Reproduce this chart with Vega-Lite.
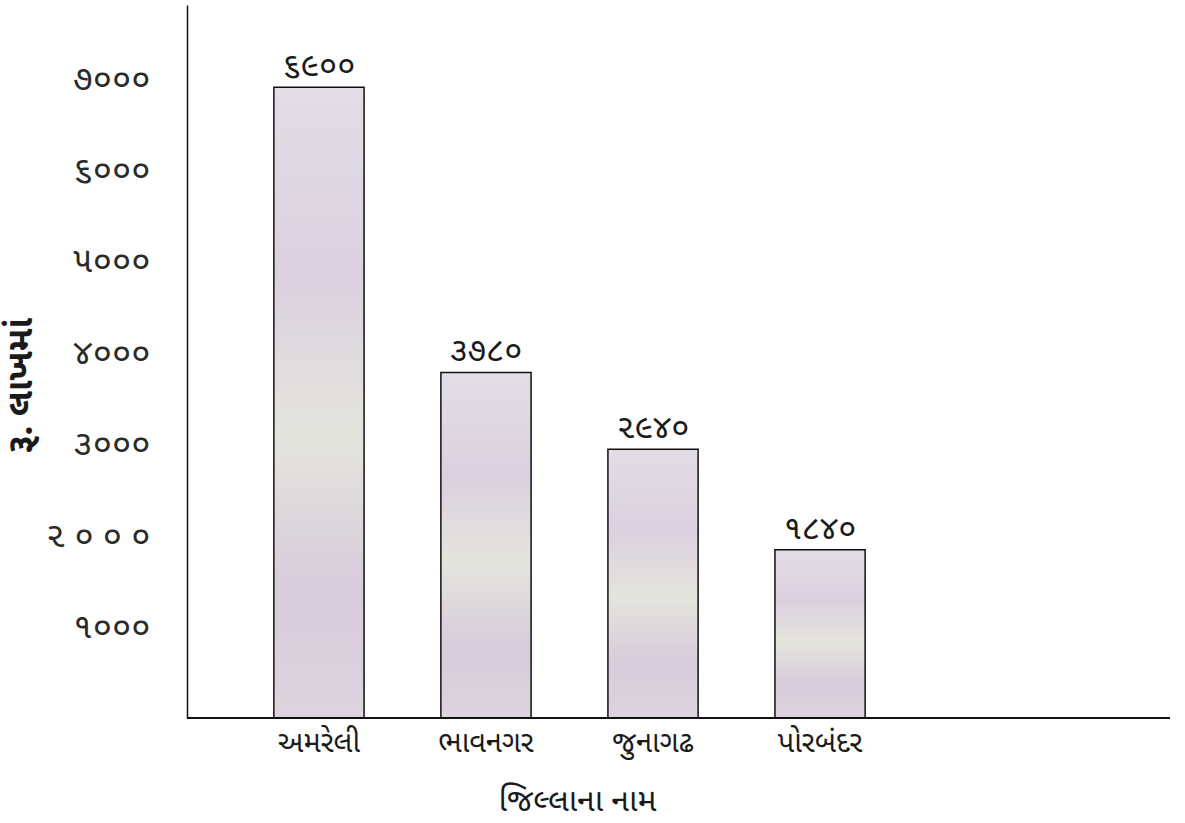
{
  "$schema": "https://vega.github.io/schema/vega-lite/v6.json",
  "width": 983,
  "height": 713,
  "autosize": {"type": "none"},
  "padding": {"left": 187, "top": 5, "right": 15, "bottom": 105},
  "background": "white",
  "config": {
    "view": {"stroke": null},
    "font": "Noto Sans Gujarati, Noto Sans, sans-serif"
  },
  "data": {
    "values": [
      {"district": "અમરેલી", "value": 6900, "label": "૬૯૦૦"},
      {"district": "ભાવનગર", "value": 3780, "label": "૩૭૮૦"},
      {"district": "જુનાગઢ", "value": 2940, "label": "૨૯૪૦"},
      {"district": "પોરબંદર", "value": 1840, "label": "૧૮૪૦"}
    ]
  },
  "encoding": {
    "x": {
      "field": "district",
      "type": "nominal",
      "sort": null,
      "scale": {"range": [0, 765], "paddingInner": 0.46, "paddingOuter": 0.52},
      "axis": {
        "title": "જિલ્લાના નામ",
        "labelAngle": 0,
        "domain": false,
        "ticks": false,
        "labelFontSize": 29,
        "labelColor": "#1a1a1a",
        "labelPadding": 10,
        "titleFontSize": 32,
        "titleFontWeight": "normal",
        "titleColor": "#1a1a1a",
        "titleX": 390,
        "titleY": 82,
        "titleBaseline": "middle"
      }
    },
    "y": {
      "field": "value",
      "type": "quantitative",
      "scale": {"domain": [0, 7800]},
      "axis": {
        "title": "રૂ. લાખમાં",
        "values": [1000, 2000, 3000, 4000, 5000, 6000, 7000],
        "labelExpr": "{'1000':'૧૦૦૦','2000':'૨ ૦ ૦ ૦','3000':'૩૦૦૦','4000':'૪૦૦૦','5000':'૫૦૦૦','6000':'૬૦૦૦','7000':'૭૦૦૦'}['' + datum.value]",
        "grid": false,
        "ticks": false,
        "domainColor": "#111",
        "domainWidth": 1.5,
        "labelFontSize": 35,
        "labelColor": "#2a2a2a",
        "labelPadding": 37,
        "titleFontSize": 36,
        "titleFontWeight": "bold",
        "titleColor": "#1a1a1a",
        "titleAngle": -90,
        "titleX": -167,
        "titleY": 380,
        "titleBaseline": "middle"
      }
    }
  },
  "layer": [
    {
      "mark": {
        "type": "bar",
        "stroke": "#111",
        "strokeWidth": 1.5,
        "fill": {
          "gradient": "linear",
          "x1": 0, "y1": 0, "x2": 0, "y2": 1,
          "stops": [
            {"offset": 0, "color": "#e2dde6"},
            {"offset": 0.3, "color": "#dcd0e0"},
            {"offset": 0.55, "color": "#e4e4dc"},
            {"offset": 0.8, "color": "#d8cbdc"},
            {"offset": 1, "color": "#ddd4df"}
          ]
        }
      }
    },
    {
      "mark": {"type": "text", "baseline": "bottom", "dy": -4, "fontSize": 33, "color": "#1a1a1a"},
      "encoding": {"text": {"field": "label"}}
    },
    {
      "mark": {"type": "rule", "color": "#111", "strokeWidth": 2},
      "encoding": {"y": {"datum": 0}, "x": null}
    }
  ]
}
